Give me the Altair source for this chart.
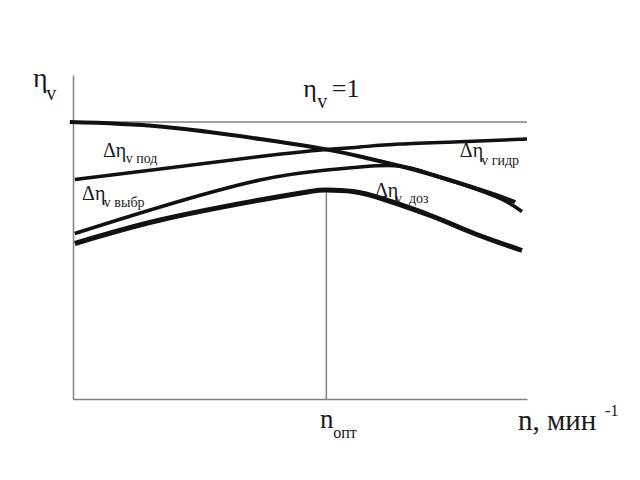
import altair as alt
import pandas as pd

# ---- data (x: relative speed n, 0..100 ; y: volumetric efficiency) ----
hydr_x = [-0.7, 19.2, 41.2, 55.9, 63.2, 72.0, 79.3, 86.8, 94.1, 97.4]
hydr_y = [1.000, 0.991, 0.966, 0.945, 0.931, 0.912, 0.894, 0.873, 0.851, 0.840]

pod_x = [0.4, 19.2, 41.2, 55.9, 63.2, 72.0, 86.8, 100.0]
pod_y = [0.885, 0.906, 0.931, 0.945, 0.950, 0.956, 0.961, 0.966]

vybr_x = [0.4, 19.2, 41.2, 55.9, 63.2, 72.0, 79.3, 86.8, 94.1, 98.9]
vybr_y = [0.777, 0.830, 0.884, 0.904, 0.910, 0.912, 0.894, 0.872, 0.847, 0.821]

doz_x = [0.4, 19.2, 41.2, 52.2, 55.7, 61.7, 68.3, 79.3, 88.1, 98.9]
doz_y = [0.757, 0.804, 0.844, 0.861, 0.864, 0.861, 0.846, 0.811, 0.778, 0.743]

eta_one = 1.0
n_opt = 55.8
n_opt_eta = 0.864

label_text = ["η", "v", "η", "v", "=1",
              "Δη", "v под", "Δη", "v выбр", "Δη", "v гидр", "Δη", "v\u00a0 доз",
              "n", "опт", "n, мин", "-1"]
label_x = [-8.8, -5.9, 50.7, 53.8, 57.0,
           6.6, 11.6, 2.0, 6.8, 85.2, 89.9, 66.5, 70.9,
           54.4, 57.3, 98.0, 117.2]
label_y = [1.070, 1.044, 1.050, 1.028, 1.050,
           0.930, 0.918, 0.844, 0.831, 0.930, 0.914, 0.850, 0.838,
           0.388, 0.368, 0.384, 0.412]
label_size = [28, 20, 26, 20, 26,
              20, 14, 20, 14, 20, 14, 20, 14,
              27, 16, 29, 16]

X_DOM = [0, 100]
Y_DOM = [0.446, 1.094]
FONT = "serif"
GRAY = "#808080"

xs = alt.Scale(domain=X_DOM, nice=False, zero=False)
ys = alt.Scale(domain=Y_DOM, nice=False, zero=False)
xax = alt.Axis(labels=False, ticks=False, grid=False, title=None,
               domainColor=GRAY, domainWidth=1.5)
yax = alt.Axis(labels=False, ticks=False, grid=False, title=None,
               domainColor=GRAY, domainWidth=1.5)


def curve(xv, yv, width):
    df = pd.DataFrame({"x": xv, "y": yv})
    return alt.Chart(df).mark_line(
        color="#111111", strokeWidth=width, interpolate="natural", strokeCap="butt"
    ).encode(
        x=alt.X("x:Q", scale=xs, axis=xax),
        y=alt.Y("y:Q", scale=ys, axis=yax),
    )


base_lines = alt.Chart(pd.DataFrame({"x": [X_DOM[0]], "x2": [X_DOM[1]], "y": [eta_one]})).mark_rule(
    color=GRAY, strokeWidth=1.5
).encode(x=alt.X("x:Q", scale=xs, axis=xax), x2="x2:Q", y=alt.Y("y:Q", scale=ys, axis=yax))

opt_line = alt.Chart(pd.DataFrame({"x": [n_opt], "y": [Y_DOM[0]], "y2": [n_opt_eta]})).mark_rule(
    color=GRAY, strokeWidth=1.5
).encode(x=alt.X("x:Q", scale=xs, axis=xax), y=alt.Y("y:Q", scale=ys, axis=yax), y2="y2:Q")

labels = alt.Chart(pd.DataFrame({"t": label_text, "x": label_x, "y": label_y, "s": label_size})).mark_text(
    font=FONT, color="#1a1a1a", align="left", baseline="alphabetic"
).encode(
    x=alt.X("x:Q", scale=xs, axis=xax),
    y=alt.Y("y:Q", scale=ys, axis=yax),
    text="t:N",
    size=alt.Size("s:Q", scale=None, legend=None),
)

chart = alt.layer(
    base_lines,
    opt_line,
    curve(hydr_x, hydr_y, 4),
    curve(pod_x, pod_y, 3.5),
    curve(vybr_x, vybr_y, 3.5),
    curve(doz_x, doz_y, 5),
    labels,
).properties(
    width=454, height=324,
    padding={"left": 73, "top": 75, "right": 113, "bottom": 81},
    autosize=alt.AutoSizeParams(type="none"),
    background="white",
).configure_view(stroke=None)

chart.save("out.html", embed_options={"renderer": "svg", "actions": False})
